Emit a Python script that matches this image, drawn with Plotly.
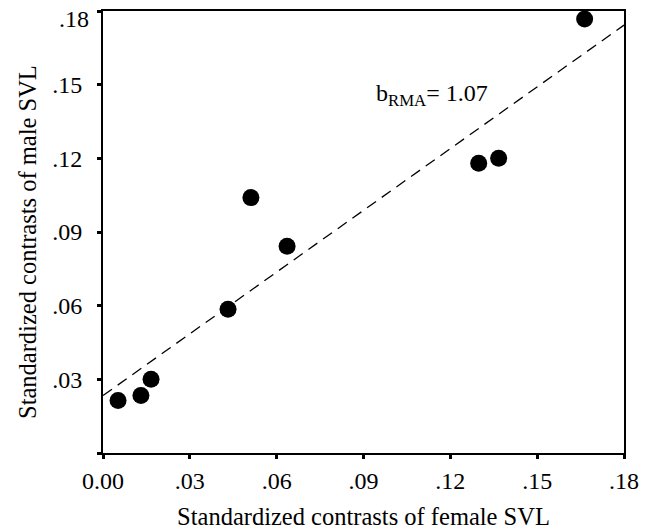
import plotly.graph_objects as go

# Data
female_svl = [0.0052, 0.0131, 0.0166, 0.0432, 0.0511, 0.0636, 0.1298, 0.1367, 0.1664]
male_svl = [0.0214, 0.0234, 0.0300, 0.0585, 0.1040, 0.0842, 0.1180, 0.1200, 0.1767]

fit_intercept = 0.0234
fit_slope = 0.838
fit_x = [0.0, 0.18]
fit_y = [fit_intercept + fit_slope * v for v in fit_x]

tick_vals = [0.0, 0.03, 0.06, 0.09, 0.12, 0.15, 0.18]
x_tick_text = ["0.00", ".03", ".06", ".09", ".12", ".15", ".18"]
y_tick_text = ["", ".03", ".06", ".09", ".12", ".15", ""]
y_top_label = ".18"

x_title = "Standardized contrasts of female SVL"
y_title = "Standardized contrasts of male SVL"
slope_label = "b<sub>RMA</sub>= 1.07"

font_family = "Liberation Serif"

fig = go.Figure()
fig.add_trace(go.Scatter(
    x=fit_x, y=fit_y, mode="lines",
    line=dict(color="black", width=1.3, dash="11px,7px"),
    showlegend=False, hoverinfo="skip",
))
fig.add_trace(go.Scatter(
    x=female_svl, y=male_svl, mode="markers",
    marker=dict(color="black", size=17),
    showlegend=False,
))

fig.add_annotation(
    x=0.0935, y=0.1457, xref="x", yref="y",
    text=slope_label, showarrow=False,
    xanchor="left", yanchor="middle",
    font=dict(family=font_family, size=24, color="black"),
)

# top y tick label, nudged down inside the figure as in the reference
fig.add_annotation(
    x=0, y=tick_vals[-1], xref="paper", yref="y",
    text=y_top_label, showarrow=False,
    xanchor="right", yanchor="middle", xshift=-12, yshift=-8,
    font=dict(family=font_family, size=24, color="black"),
)

# y axis title
fig.add_annotation(
    x=0, y=0.5, xref="paper", yref="paper",
    text=y_title, showarrow=False, textangle=-90,
    xanchor="center", yanchor="middle", xshift=-76, yshift=-10,
    font=dict(family=font_family, size=24.5, color="black"),
)

axis_common = dict(
    range=[0, 0.18],
    tickvals=tick_vals,
    showgrid=False, zeroline=False,
    showline=True, linecolor="black", linewidth=2,
    mirror=True, automargin=False,
    ticks="outside", ticklen=4, tickwidth=3, tickcolor="black",
    ticklabeloverflow="allow",
    tickfont=dict(family=font_family, size=24, color="black"),
)

fig.update_layout(
    width=646, height=530,
    margin=dict(l=103, r=22, t=11, b=77),
    paper_bgcolor="white", plot_bgcolor="white",
    xaxis=dict(
        **axis_common,
        ticktext=x_tick_text,
        ticklabelstandoff=1,
        title=dict(text=x_title,
                   font=dict(family=font_family, size=24.5, color="black"),
                   standoff=19),
    ),
    yaxis=dict(
        **axis_common,
        ticktext=y_tick_text,
        ticklabelstandoff=10,
    ),
)

fig.write_html("out.html", config={"displayModeBar": False},
               post_script="document.body.style.margin='0';")
